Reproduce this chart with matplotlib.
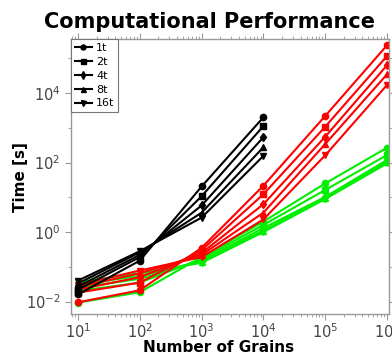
import numpy as np
import matplotlib
matplotlib.use("Agg")
import matplotlib.pyplot as plt
from matplotlib.ticker import FixedLocator, NullFormatter

# ---- data ----
threads = ["1t", "2t", "4t", "8t", "16t"]
markers = ["o", "s", "d", "^", "v"]

grains_black = [10, 100, 1000, 10000]
black = {
    "1t":  [0.016, 0.15, 20.4, 2000],
    "2t":  [0.022, 0.19, 10.7, 1120],
    "4t":  [0.027, 0.22, 5.8, 535],
    "8t":  [0.033, 0.26, 3.6, 275],
    "16t": [0.040, 0.28, 2.6, 155],
}

grains = [10, 100, 1000, 10000, 100000, 1000000]
red = {
    "1t":  [0.0095, 0.021, 0.35, 21.5, 2180, 236000],
    "2t":  [0.018, 0.035, 0.30, 12.2, 1070, 116000],
    "4t":  [0.022, 0.050, 0.25, 6.3, 552, 63000],
    "8t":  [0.026, 0.065, 0.22, 3.6, 340, 34500],
    "16t": [0.030, 0.078, 0.19, 2.3, 161, 17000],
}
green = {
    "1t":  [0.0093, 0.0185, 0.19, 2.0, 25, 266],
    "2t":  [0.020, 0.035, 0.17, 1.6, 16.2, 164],
    "4t":  [0.025, 0.045, 0.15, 1.3, 10.2, 118],
    "8t":  [0.030, 0.055, 0.14, 1.1, 9.5, 103],
    "16t": [0.036, 0.065, 0.13, 1.0, 8.9, 94],
}

W, H = 392, 353
fig = plt.figure(figsize=(W / 100, H / 100), dpi=100)
ax = fig.add_axes([71 / W, 1 - 314 / H, (389 - 71) / W, (314 - 39) / H])

lw = 1.5
ms = 4.5
for t, m in zip(threads, markers):
    ax.plot(grains, green[t], color="#00ee00", marker=m, lw=lw, ms=ms)
for t, m in zip(threads, markers):
    ax.plot(grains, red[t], color="#ff0000", marker=m, lw=lw, ms=ms)
for t, m in zip(threads, markers):
    ax.plot(grains_black, black[t], color="black", marker=m, lw=lw, ms=ms, label=t)

ax.set_xscale("log")
ax.set_yscale("log")
ax.set_xlim(7.7, 1.077e6)
ax.set_ylim(4.37e-3, 3.58e5)

ax.xaxis.set_major_locator(FixedLocator([10.0 ** k for k in range(1, 7)]))
ax.xaxis.set_minor_locator(FixedLocator([s * 10.0 ** k for k in range(0, 7) for s in range(2, 10)]))
ax.yaxis.set_major_locator(FixedLocator([1e-2, 1e0, 1e2, 1e4]))
ax.yaxis.set_minor_locator(FixedLocator([1e-1, 1e1, 1e3, 1e5]))
ax.xaxis.set_minor_formatter(NullFormatter())
ax.yaxis.set_minor_formatter(NullFormatter())

spine_col = "#999999"
for s in ax.spines.values():
    s.set_color(spine_col)
    s.set_linewidth(1.0)
ax.tick_params(which="both", colors=spine_col, labelcolor="#444444",
               labelsize=10.5, top=True, right=True)
ax.tick_params(which="major", length=4, direction="out")
ax.tick_params(which="minor", length=2.5, direction="out")
ax.tick_params(axis="x", pad=2)

leg = ax.legend(loc="upper left", fontsize=8, borderaxespad=0.0, fancybox=False,
                framealpha=1.0, edgecolor="#777777", handlelength=1.5,
                handletextpad=0.4, labelspacing=0.35, borderpad=0.35, markerscale=0.8)
leg.get_frame().set_linewidth(0.8)

fig.text(210 / W, 1 - 22 / H, "Computational Performance", ha="center", va="center",
         fontsize=15, fontweight="bold")
fig.text(219 / W, 0.5 / H, "Number of Grains", ha="center", va="baseline",
         fontsize=11, fontweight="bold")
fig.text(20 / W, 1 - 177 / H, "Time [s]", ha="center", va="center", rotation=90,
         fontsize=11, fontweight="bold")

fig.savefig("out.png", dpi=100)
